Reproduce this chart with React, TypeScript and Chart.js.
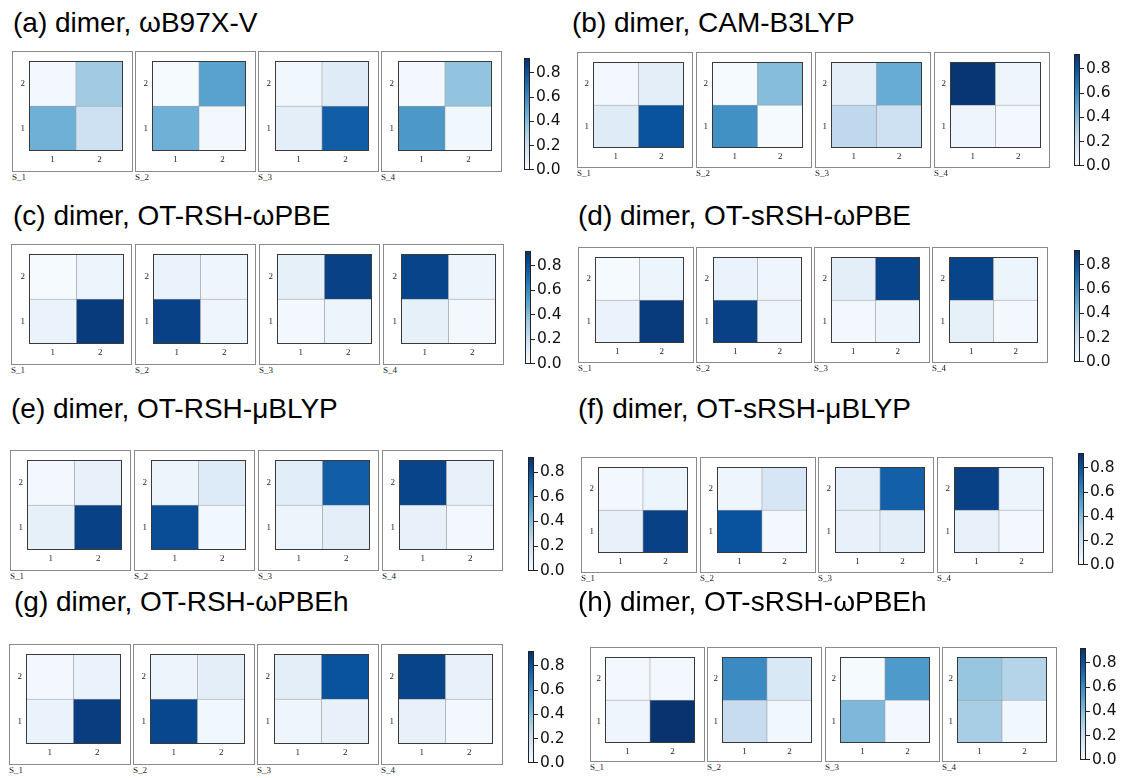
import React, { useEffect, useRef } from 'react';
import { Chart, registerables } from 'chart.js';
Chart.register(...registerables);

// ---------- data ----------
const stateLabels = ['S_1', 'S_2', 'S_3', 'S_4'];
const xLabels = ['1', '2'];
const yRows = [1, 2];
const cbTicks = [0, 0.2, 0.4, 0.6, 0.8];
const cbMax = 0.92;

const panelTitles = [
  '(a) dimer, ωB97X-V',
  '(b) dimer, CAM-B3LYP',
  '(c) dimer, OT-RSH-ωPBE',
  '(d) dimer, OT-sRSH-ωPBE',
  '(e) dimer, OT-RSH-μBLYP',
  '(f) dimer, OT-sRSH-μBLYP',
  '(g) dimer, OT-RSH-ωPBEh',
  '(h) dimer, OT-sRSH-ωPBEh',
];

// each state: [ row y=1 [x=1, x=2], row y=2 [x=1, x=2] ]
const wB97XV = [
  [[0.45, 0.19], [0.02, 0.34]],
  [[0.45, 0.02], [0.01, 0.51]],
  [[0.09, 0.76], [0.03, 0.11]],
  [[0.55, 0.03], [0.02, 0.37]],
];
const camB3LYP = [
  [[0.11, 0.80], [0.02, 0.09]],
  [[0.58, 0.01], [0.01, 0.40]],
  [[0.25, 0.19], [0.09, 0.47]],
  [[0.04, 0.02], [0.90, 0.04]],
];
const rshWPBE = [
  [[0.06, 0.88], [0.01, 0.05]],
  [[0.86, 0.04], [0.06, 0.04]],
  [[0.02, 0.05], [0.08, 0.86]],
  [[0.08, 0.02], [0.85, 0.05]],
];
const srshWPBE = [
  [[0.06, 0.88], [0.01, 0.05]],
  [[0.86, 0.04], [0.06, 0.04]],
  [[0.02, 0.05], [0.09, 0.85]],
  [[0.08, 0.02], [0.85, 0.05]],
];
const rshMuBLYP = [
  [[0.08, 0.86], [0.02, 0.07]],
  [[0.82, 0.03], [0.05, 0.12]],
  [[0.05, 0.09], [0.10, 0.76]],
  [[0.07, 0.02], [0.85, 0.07]],
];
const srshMuBLYP = [
  [[0.07, 0.86], [0.02, 0.05]],
  [[0.80, 0.02], [0.04, 0.15]],
  [[0.07, 0.09], [0.09, 0.75]],
  [[0.07, 0.02], [0.86, 0.05]],
];
const rshWPBEh = [
  [[0.06, 0.87], [0.02, 0.06]],
  [[0.84, 0.03], [0.05, 0.09]],
  [[0.04, 0.07], [0.09, 0.80]],
  [[0.07, 0.02], [0.85, 0.07]],
];
const srshWPBEh = [
  [[0.04, 0.91], [0.02, 0.02]],
  [[0.22, 0.03], [0.60, 0.14]],
  [[0.42, 0.02], [0.01, 0.54]],
  [[0.32, 0.03], [0.36, 0.28]],
];
const panelValues = [wB97XV, camB3LYP, rshWPBE, srshWPBE, rshMuBLYP, srshMuBLYP, rshWPBEh, srshWPBEh];

// ---------- layout (positions / sizes) ----------
type Lay = { tx: number; tb: number; bx: number; bp: number; bw: number; by: number; bh: number; hl: number; ht: number; hw: number; hh: number; cx: number; ct: number; cb: number };
const layouts: Lay[] = [
  { tx: 13, tb: 33, bx: 12, bp: 123, bw: 121, by: 51, bh: 121, hl: 17, ht: 9, hw: 94, hh: 91, cx: 524, ct: 57, cb: 171 },
  { tx: 572, tb: 33, bx: 577, bp: 119, bw: 116, by: 52, bh: 116, hl: 16, ht: 9, hw: 91, hh: 87, cx: 1074, ct: 53, cb: 167 },
  { tx: 13, tb: 226, bx: 11, bp: 124, bw: 121, by: 244, bh: 121, hl: 18, ht: 9, hw: 95, hh: 91, cx: 525, ct: 250, cb: 365 },
  { tx: 578, tb: 226, bx: 578, bp: 118, bw: 116, by: 247, bh: 116, hl: 17, ht: 9, hw: 89, hh: 87, cx: 1074, ct: 249, cb: 363 },
  { tx: 11, tb: 419, bx: 10, bp: 124, bw: 121, by: 450, bh: 121, hl: 17, ht: 9, hw: 95, hh: 91, cx: 528, ct: 456, cb: 572 },
  { tx: 578, tb: 419, bx: 581, bp: 118.7, bw: 116, by: 457, bh: 116, hl: 17, ht: 9, hw: 90, hh: 87, cx: 1078, ct: 452, cb: 566 },
  { tx: 14, tb: 612, bx: 9, bp: 124, bw: 122, by: 644, bh: 121, hl: 17, ht: 9, hw: 95, hh: 91, cx: 528, ct: 650, cb: 764 },
  { tx: 578, tb: 612, bx: 590, bp: 117.3, bw: 115, by: 647, bh: 115, hl: 15, ht: 9, hw: 90, hh: 87, cx: 1080, ct: 647, cb: 761 },
];
const CB_W = 6;
const CB_CANVAS_W = 60;

// ---------- colormap (matplotlib Blues) ----------
const BLUES = [
  [247, 251, 255], [222, 235, 247], [198, 219, 239], [158, 202, 225], [107, 174, 214],
  [66, 146, 198], [33, 113, 181], [8, 81, 156], [8, 48, 107],
];
function blues(t: number): string {
  const c = Math.max(0, Math.min(1, t));
  const p = c * 8;
  const i = Math.min(7, Math.floor(p));
  const f = p - i;
  const a = BLUES[i], b = BLUES[i + 1];
  const r = Math.round(a[0] + (b[0] - a[0]) * f);
  const g = Math.round(a[1] + (b[1] - a[1]) * f);
  const bl = Math.round(a[2] + (b[2] - a[2]) * f);
  return `rgb(${r},${g},${bl})`;
}

const framePlugin = {
  id: 'frame',
  afterDatasetsDraw(chart: any) {
    const { ctx, chartArea: a } = chart;
    ctx.save();
    ctx.strokeStyle = chart.options.frameColor || '#3a3a3a';
    ctx.lineWidth = 1;
    const l = Math.round(a.left) + 0.5, t = Math.round(a.top) + 0.5;
    const w = Math.round(a.right) - Math.round(a.left) - 1, h = Math.round(a.bottom) - Math.round(a.top) - 1;
    ctx.strokeRect(l, t, w, h);
    ctx.restore();
  },
};

const tickFont = { family: '"Liberation Serif", "DejaVu Serif", serif', size: 9 };

function Heat({ values, lay }: { values: number[][]; lay: Lay }) {
  const ref = useRef<HTMLCanvasElement>(null);
  const w = Math.round(lay.bw) - 2;
  const h = lay.bh - 2;
  useEffect(() => {
    const top = lay.ht - 1;
    const left = lay.hl - 1;
    const chart = new Chart(ref.current as HTMLCanvasElement, {
      type: 'bar',
      data: {
        labels: xLabels,
        datasets: yRows.map((r, ri) => ({
          data: xLabels.map(() => [r - 0.5, r + 0.5]),
          backgroundColor: values[ri].map((v) => blues(v / cbMax)),
          borderColor: 'rgba(150,150,150,0.9)',
          borderWidth: 0.6,
          borderSkipped: false,
          grouped: false,
          barPercentage: 1,
          categoryPercentage: 1,
        })) as any,
      },
      options: {
        animation: false,
        responsive: false,
        events: [],
        layout: { padding: { top, right: w - left - lay.hw, left: 0, bottom: 0 } },
        plugins: { legend: { display: false }, tooltip: { enabled: false } },
        scales: {
          x: {
            type: 'category',
            grid: { display: false, drawTicks: false, tickLength: 0 },
            border: { display: false },
            ticks: { font: tickFont, color: '#222', padding: 3, maxRotation: 0 },
            afterFit: (s: any) => { s.height = h - top - lay.hh; },
          },
          y: {
            type: 'linear',
            min: 0.5,
            max: 2.5,
            grid: { display: false, drawTicks: false, tickLength: 0 },
            border: { display: false },
            ticks: { font: tickFont, color: '#222', padding: 4 },
            afterBuildTicks: (s: any) => { s.ticks = yRows.map((v) => ({ value: v })); },
            afterFit: (s: any) => { s.width = left; },
          },
        },
      } as any,
      plugins: [framePlugin],
    });
    return () => chart.destroy();
  }, []);
  return <canvas ref={ref} width={w} height={h} style={{ display: 'block' }} />;
}

function ColorBar({ lay }: { lay: Lay }) {
  const ref = useRef<HTMLCanvasElement>(null);
  const pad = 10;
  const h = lay.cb - lay.ct + pad * 2;
  useEffect(() => {
    const chart = new Chart(ref.current as HTMLCanvasElement, {
      type: 'bar',
      data: {
        labels: [''],
        datasets: [{
          data: [cbMax],
          backgroundColor: (ctx: any) => {
            const ca = ctx.chart.chartArea;
            if (!ca) return 'rgba(0,0,0,0)';
            const g = ctx.chart.ctx.createLinearGradient(0, ca.bottom, 0, ca.top);
            BLUES.forEach((c, i) => g.addColorStop(i / 8, `rgb(${c[0]},${c[1]},${c[2]})`));
            return g;
          },
          borderWidth: 0,
          barPercentage: 1,
          categoryPercentage: 1,
        }],
      },
      options: {
        animation: false,
        responsive: false,
        events: [],
        frameColor: '#222',
        layout: { padding: { top: pad, bottom: pad, left: 0, right: 0 } },
        plugins: { legend: { display: false }, tooltip: { enabled: false } },
        scales: {
          x: { display: false },
          y: {
            position: 'right',
            min: 0,
            max: cbMax,
            border: { display: false },
            grid: { display: true, drawOnChartArea: false, drawTicks: true, tickLength: 4, color: '#222', lineWidth: 1 },
            ticks: {
              font: { family: '"DejaVu Sans", sans-serif', size: 15.5 },
              color: '#111',
              padding: 2,
              callback: (v: any) => Number(v).toFixed(1),
            },
            afterBuildTicks: (s: any) => { s.ticks = cbTicks.map((v) => ({ value: v })); },
            afterFit: (s: any) => { s.width = CB_CANVAS_W - CB_W; },
          },
        },
      } as any,
      plugins: [framePlugin],
    });
    return () => chart.destroy();
  }, []);
  return (
    <canvas
      ref={ref}
      width={CB_CANVAS_W}
      height={h}
      style={{ position: 'absolute', left: lay.cx, top: lay.ct - pad, display: 'block' }}
    />
  );
}

function Panel({ idx }: { idx: number }) {
  const lay = layouts[idx];
  const vals = panelValues[idx];
  return (
    <>
      <div
        style={{
          position: 'absolute',
          left: lay.tx,
          top: lay.tb - 23.7,
          fontFamily: '"Liberation Sans", Arial, sans-serif',
          fontSize: 28,
          lineHeight: '28px',
          whiteSpace: 'nowrap',
          color: '#000',
        }}
      >
        {panelTitles[idx]}
      </div>
      {stateLabels.map((s, k) => {
        const x = Math.round(lay.bx + k * lay.bp);
        return (
          <React.Fragment key={s}>
            <div
              style={{
                position: 'absolute',
                left: x,
                top: lay.by,
                width: Math.round(lay.bw),
                height: lay.bh,
                border: '1px solid #8a8a8a',
                boxSizing: 'border-box',
                background: '#fff',
              }}
            >
              <Heat values={vals[k]} lay={lay} />
            </div>
            <div
              style={{
                position: 'absolute',
                left: x,
                top: lay.by + lay.bh,
                fontFamily: '"Liberation Serif", "DejaVu Serif", serif',
                fontSize: 9,
                lineHeight: '10px',
                color: '#222',
                whiteSpace: 'nowrap',
              }}
            >
              {s}
            </div>
          </React.Fragment>
        );
      })}
      <ColorBar lay={lay} />
    </>
  );
}

export default function App() {
  return (
    <div style={{ position: 'absolute', left: 0, top: 0, width: 1121, height: 778, background: '#fff', overflow: 'hidden' }}>
      {panelTitles.map((_, i) => (
        <Panel key={i} idx={i} />
      ))}
    </div>
  );
}
